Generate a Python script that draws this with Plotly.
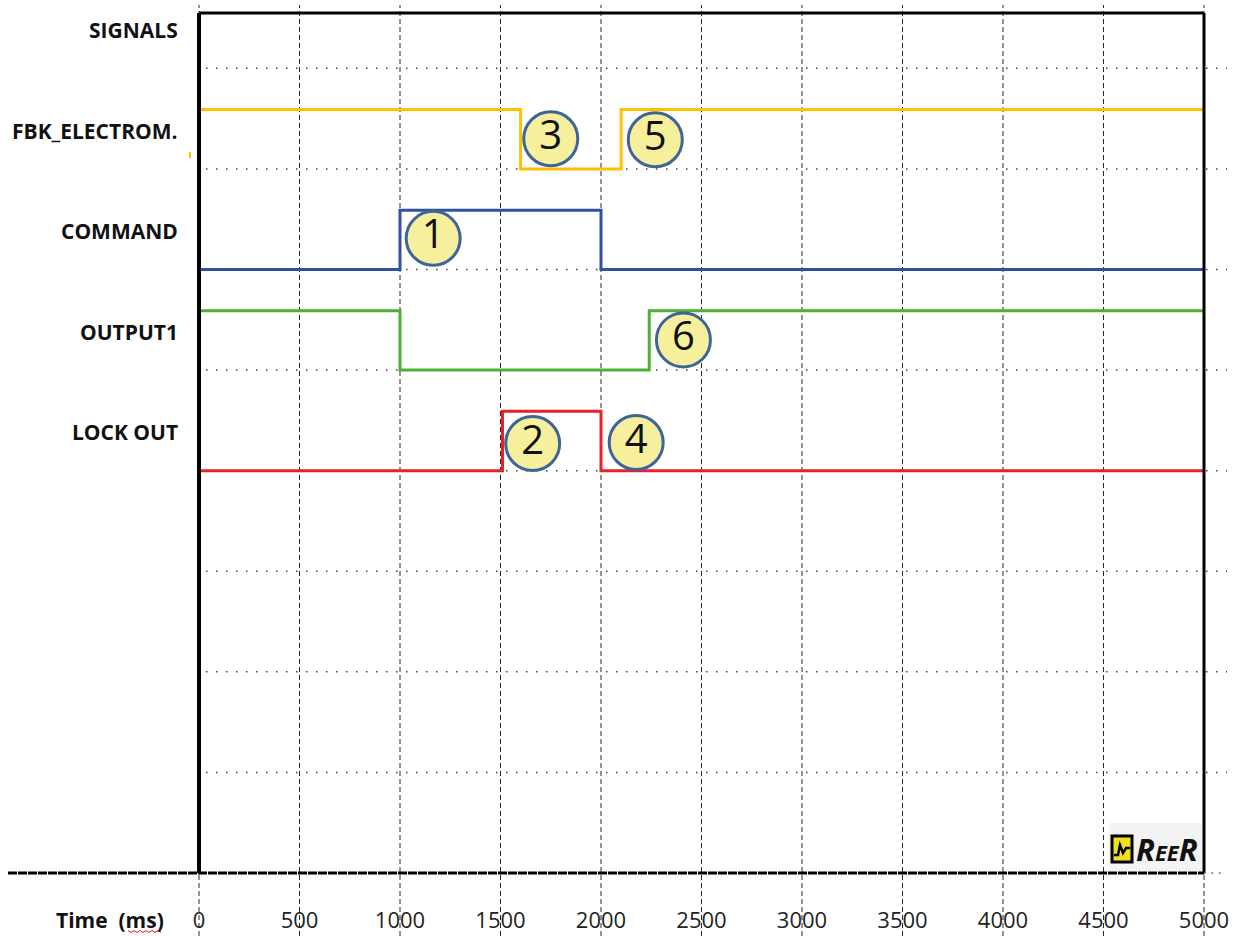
import plotly.graph_objects as go

# ---- data -------------------------------------------------------------
time_ticks = [0, 500, 1000, 1500, 2000, 2500, 3000, 3500, 4000, 4500, 5000]

header_label = "SIGNALS"
signal_names = ["FBK_ELECTROM.", "COMMAND", "OUTPUT1", "LOCK OUT"]
signal_rows = [7, 6, 5, 4]          # row index of each signal's low level

fbk_time = [0, 1600, 2100, 5000]
fbk_state = [1, 0, 1, 1]
cmd_time = [0, 1000, 2000, 5000]
cmd_state = [0, 1, 0, 0]
out_time = [0, 1000, 2240, 5000]
out_state = [1, 0, 1, 1]
lock_time = [0, 1510, 2000, 5000]
lock_state = [0, 1, 0, 0]

signal_times = [fbk_time, cmd_time, out_time, lock_time]
signal_states = [fbk_state, cmd_state, out_state, lock_state]
signal_colors = ["#ffc000", "#2f52a0", "#4cb034", "#e8202a"]

callout_labels = ["1", "2", "3", "4", "5", "6"]
callout_time = [1165, 1660, 1750, 2175, 2270, 2410]
callout_row = [6.31, 4.27, 7.30, 4.28, 7.29, 5.30]

# ---- geometry of the frame -------------------------------------------
W, H = 1236, 936
L, R, T, B = 199, 32, 13, 63
X_RANGE = [0, 5000]
Y_RANGE = [0, 8.55]
PULSE = 0.59                        # height of a high level, in rows
PW, PH = W - L - R, H - T - B


def px_x(p):
    return (p - L) / PW


def px_y(p):
    return (H - B - p) / PH


def val_x(v):
    return (v - X_RANGE[0]) / (X_RANGE[1] - X_RANGE[0])


def val_y(v):
    return (v - Y_RANGE[0]) / (Y_RANGE[1] - Y_RANGE[0])


fig = go.Figure()

# step signals
for name, row, tt, ss, col in zip(signal_names, signal_rows, signal_times,
                                  signal_states, signal_colors):
    fig.add_trace(go.Scatter(
        x=tt, y=[row + PULSE * s for s in ss], mode="lines",
        line=dict(color=col, width=3, shape="hv"), name=name,
        hoverinfo="skip", showlegend=False))

# numbered callouts
fig.add_trace(go.Scatter(
    x=callout_time, y=callout_row, mode="markers+text",
    text=callout_labels, textposition="middle center",
    textfont=dict(family="Open Sans", size=40, color="#111111"),
    marker=dict(size=54, color="#f6f09c",
                line=dict(color="#3f6499", width=3)),
    hoverinfo="skip", showlegend=False, cliponaxis=False))

shapes = []
# horizontal dotted grid rows
for row in range(1, 9):
    shapes.append(dict(type="line", xref="paper", yref="paper",
                       x0=px_x(206), x1=px_x(1227), y0=val_y(row), y1=val_y(row),
                       line=dict(color="#444444", width=1.5, dash="1.5px,8.5px"),
                       layer="below"))
# vertical dashed grid columns, running past the frame
for t in time_ticks:
    shapes.append(dict(type="line", xref="paper", yref="paper",
                       x0=val_x(t), x1=val_x(t), y0=px_y(936), y1=px_y(5),
                       line=dict(color="#2a2a2a", width=1, dash="5px,3px"),
                       layer="below"))
# frame
shapes += [
    dict(type="line", xref="paper", yref="paper", x0=0, x1=0, y0=0, y1=1,
         line=dict(color="black", width=4)),
    dict(type="line", xref="paper", yref="paper", x0=0, x1=1, y0=1, y1=1,
         line=dict(color="black", width=3)),
    dict(type="line", xref="paper", yref="paper", x0=1, x1=1, y0=0, y1=1,
         line=dict(color="black", width=3)),
    dict(type="line", xref="paper", yref="paper", x0=px_x(8), x1=1, y0=0, y1=0,
         line=dict(color="black", width=3, dash="9px,1px")),
    dict(type="line", xref="paper", yref="paper", x0=1, x1=px_x(1222), y0=0, y1=0,
         line=dict(color="#555555", width=1.5, dash="1.5px,6px")),
    # small orange stub left of the frame
    dict(type="line", xref="paper", yref="paper",
         x0=px_x(190), x1=px_x(190), y0=px_y(152), y1=px_y(158),
         line=dict(color="#ffc000", width=2)),
]

# logo badge
shapes += [
    dict(type="rect", xref="paper", yref="paper",
         x0=px_x(1109), x1=px_x(1202), y0=px_y(871), y1=px_y(823),
         fillcolor="#f3f3f3", line=dict(width=0), layer="below"),
    dict(type="rect", xref="paper", yref="paper",
         x0=px_x(1112), x1=px_x(1132), y0=px_y(862), y1=px_y(836),
         fillcolor="#f0df1c", line=dict(color="black", width=3)),
]
wave = [(1114, 855), (1118, 855), (1120, 845), (1123, 853), (1126, 848), (1130, 848)]
path = "M " + " L ".join(f"{px_x(a):.5f},{px_y(b):.5f}" for a, b in wave)
shapes.append(dict(type="path", xref="paper", yref="paper", path=path,
                   line=dict(color="black", width=2.5)))

# spell-check squiggle under "ms"
sq = []
for i in range(12):
    sq.append((128 + 3 * i, 931 + (1.5 if i % 2 else -0.5)))
path = "M " + " L ".join(f"{px_x(a):.5f},{px_y(b):.5f}" for a, b in sq)
shapes.append(dict(type="path", xref="paper", yref="paper", path=path,
                   line=dict(color="#e02020", width=1)))

annotations = []
label_font = dict(family="Open Sans", size=21, color="#111111")
for name, row in zip([header_label] + signal_names, [8] + signal_rows):
    annotations.append(dict(text="<b>" + name + "</b>", xref="paper", yref="y",
                            x=px_x(180), y=row + 0.38, xanchor="right",
                            yanchor="middle", showarrow=False, font=label_font))
annotations.append(dict(text="<b>Time\u00a0\u00a0(ms)</b>", xref="paper", yref="paper",
                        x=px_x(166), y=px_y(920), xanchor="right", yanchor="middle",
                        showarrow=False,
                        font=dict(family="Open Sans", size=21, color="#111111")))
annotations.append(dict(text="<b><i>R<span style='font-size:22px'>EE</span>R</i></b>",
                        xref="paper", yref="paper", x=px_x(1134), y=px_y(849),
                        xanchor="left", yanchor="middle", showarrow=False,
                        font=dict(family="Open Sans", size=31, color="#111111")))

fig.update_layout(
    width=W, height=H,
    margin=dict(l=L, r=R, t=T, b=B, pad=0, autoexpand=False),
    plot_bgcolor="white", paper_bgcolor="white",
    shapes=shapes, annotations=annotations,
    xaxis=dict(range=X_RANGE, tickvals=time_ticks, ticktext=[str(t) for t in time_ticks],
               showgrid=False, zeroline=False, showline=False, automargin=False,
               ticks="outside", ticklen=28, tickcolor="rgba(0,0,0,0)",
               tickfont=dict(family="Open Sans", size=22, color="#222222"),
               fixedrange=True),
    yaxis=dict(range=Y_RANGE, showgrid=False, zeroline=False, showline=False,
               showticklabels=False, ticks="", fixedrange=True, automargin=False),
)

fig.write_html("out.html")
